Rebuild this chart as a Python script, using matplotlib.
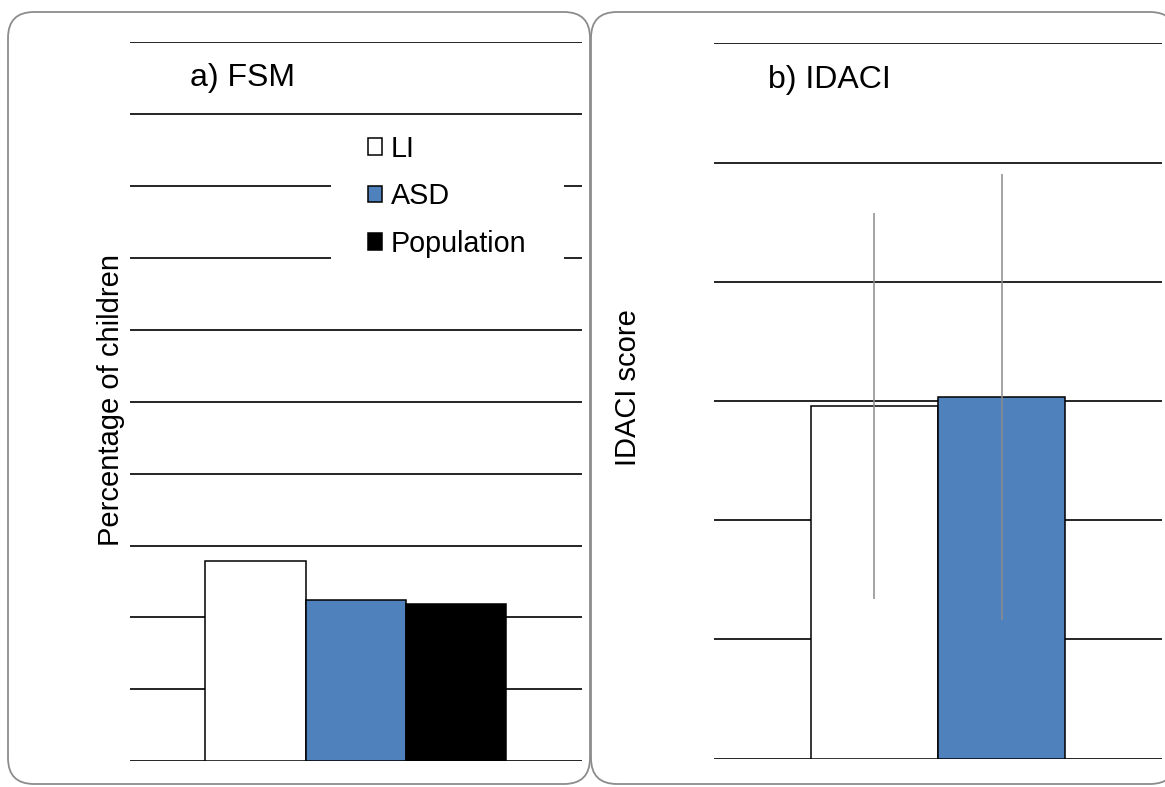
import matplotlib
matplotlib.use("Agg")
import matplotlib.pyplot as plt
from matplotlib.patches import FancyBboxPatch, Rectangle

plt.rcParams['font.family'] = ['Liberation Sans', 'DejaVu Sans']

# panel a) FSM, percentage of children
fsm_groups = ['LI', 'ASD', 'Population']
fsm_values = [13.9, 11.2, 10.9]
fsm_colors = ['white', '#4F81BD', 'black']

# panel b) IDACI score
idaci_groups = ['LI', 'ASD']
idaci_values = [0.296, 0.303]
idaci_err = [0.162, 0.187]
idaci_colors = ['white', '#4F81BD']

W, H = 1165, 787
fig = plt.figure(figsize=(W / 100, H / 100), dpi=100)

# background with the two rounded frames, in pixel units
bg = fig.add_axes([0, 0, 1, 1], zorder=-1)
bg.set_xlim(0, W)
bg.set_ylim(H, 0)
bg.axis('off')
for x0, x1 in [(8, 590), (591, 1176)]:
    bg.add_patch(FancyBboxPatch((x0, 12), x1 - x0, 772,
                                boxstyle="round,pad=0,rounding_size=26",
                                fc='white', ec='#8c8c8c', lw=1.3))


def px_axes(x0, x1, y0, y1):
    # pixel box (top-down y) -> figure fraction axes
    return fig.add_axes([x0 / W, (H - y1) / H, (x1 - x0) / W, (y1 - y0) / H])


def style(ax, ymax, step):
    ax.set_xlim(-0.5, 0.5)
    ax.set_ylim(0, ymax)
    n = int(round(ymax / step))
    ax.set_yticks([i * step for i in range(n + 1)])
    ax.set_xticks([])
    ax.tick_params(left=False, labelleft=False)
    for s in ax.spines.values():
        s.set_visible(False)
    ax.set_axisbelow(True)
    ax.yaxis.grid(True, color='black', lw=1.2)
    ax.patch.set_alpha(0)


# ---- a) FSM
ax1 = px_axes(130, 581.6, 42, 761.3)
style(ax1, 50, 5)
w1 = 0.2223
for i, (g, v, c) in enumerate(zip(fsm_groups, fsm_values, fsm_colors)):
    ax1.bar((i - 1) * w1, v, width=w1, color=c, edgecolor='black', lw=1.1,
            label=g, zorder=2)
ax1.text(0.133, 0.9388, 'a) FSM', transform=ax1.transAxes, fontsize=23,
         va='baseline', ha='left')
ax1.add_patch(Rectangle((0.445, 0.676), 0.516, 0.216, transform=ax1.transAxes,
                        fc='white', ec='none', zorder=1.5))
leg = ax1.legend(loc='upper left', bbox_to_anchor=(0.527, 0.871), frameon=False,
                 fontsize=20.7, handlelength=0.5, handleheight=0.5,
                 handletextpad=0.3, labelspacing=0.68, borderpad=0,
                 borderaxespad=0)
leg.set_zorder(5)
fig.text(111 / W, 1 - 400 / H, 'Percentage of children', rotation=90,
         fontsize=21, ha='center', va='center')

# ---- b) IDACI
ax2 = px_axes(714, 1162, 43.3, 758.7)
style(ax2, 0.6, 0.1)
w2 = 0.2835
for i, (g, v, e, c) in enumerate(zip(idaci_groups, idaci_values, idaci_err, idaci_colors)):
    ax2.bar((i - 0.5) * w2, v, width=w2, color=c, edgecolor='black', lw=1.1,
            zorder=2)
    ax2.errorbar((i - 0.5) * w2, v, yerr=e, fmt='none', ecolor='#8c8c8c',
                 elinewidth=1.1, capsize=0, zorder=3)
ax2.text(0.1205, 0.9375, 'b) IDACI', transform=ax2.transAxes, fontsize=23,
         va='baseline', ha='left')
fig.text(627.5 / W, 1 - 388 / H, 'IDACI score', rotation=90,
         fontsize=21, ha='center', va='center')

fig.savefig('out.png', dpi=100)
